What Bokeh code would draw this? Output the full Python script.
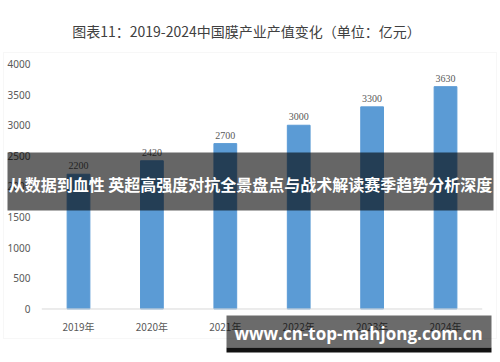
from bokeh.plotting import figure
from bokeh.models import (ColumnDataSource, Label, BoxAnnotation, FixedTicker, Range1d,
                          LinearAxis)
from bokeh.embed import file_html
from bokeh.resources import INLINE

years = ["2019年", "2020年", "2021年", "2022年", "2023年", "2024年"]
values = [2200, 2420, 2700, 3000, 3300, 3630]
y_ticks = [0, 500, 1000, 1500, 2000, 2500, 3000, 3500, 4000]
title_text = "图表11：2019-2024中国膜产业产值变化（单位：亿元）"
banner_text = "从数据到血性 英超高强度对抗全景盘点与战术解读赛季趋势分析深度"
watermark_text = "www.cn-top-mahjong.com.cn"

FONT = "Noto Sans CJK SC"

idx = list(range(len(years)))
src = ColumnDataSource(dict(x=idx, top=values, label=[str(v) for v in values]))

# frame covers the whole canvas; scales chosen so the plot area sits at x 41..482, y 63..309
p = figure(width=500, height=362, x_range=Range1d(-1.0627, 5.749),
           y_range=Range1d(-873.5, 5036.7),
           output_backend="svg", toolbar_location=None,
           min_border=0, x_axis_location=None, y_axis_location=None)
p.background_fill_color = "white"
p.border_fill_color = "white"
p.outline_line_color = None
p.grid.visible = False

# outer chart box
p.add_layout(BoxAnnotation(left=3, right=496, top=310, bottom=24,
                           left_units="screen", right_units="screen",
                           top_units="screen", bottom_units="screen",
                           fill_color=None, line_color="#e3e3e3", line_width=1))

p.vbar(x="x", top="top", width=0.31, source=src, color="#5b9bd5")
p.text(x="x", y="top", text="label", source=src, text_align="center", text_baseline="bottom",
       y_offset=-5, text_font_size="10px", text_color="#595959", text_font="Noto Sans")

# category axis baseline
p.segment(x0=[-0.5], y0=[0], x1=[len(years) - 0.5], y1=[0], line_color="#d9d9d9", line_width=1)

yax = LinearAxis(fixed_location=-0.477, ticker=FixedTicker(ticks=y_ticks))
yax.axis_line_color = None
yax.major_tick_line_color = None
yax.minor_tick_line_color = None
yax.major_label_standoff = 7
yax.major_label_text_font_size = "10px"
yax.major_label_text_color = "#595959"
yax.major_label_text_font = "Noto Sans"
p.add_layout(yax, "left")

xax = LinearAxis(fixed_location=0, ticker=FixedTicker(ticks=idx),
                 major_label_overrides={i: y for i, y in zip(idx, years)})
xax.axis_line_color = None
xax.major_tick_line_color = None
xax.minor_tick_line_color = None
xax.major_label_standoff = 4
xax.major_label_text_font_size = "10px"
xax.major_label_text_color = "#595959"
xax.major_label_text_font = FONT
p.add_layout(xax, "below")

p.add_layout(Label(x=246, y=332, x_units="screen", y_units="screen", text=title_text,
                   text_align="center", text_baseline="middle", text_font_size="14px",
                   text_color="#404040", text_font=FONT))

# banner
p.add_layout(BoxAnnotation(left=7, right=493, top=210, bottom=152,
                           left_units="screen", right_units="screen",
                           top_units="screen", bottom_units="screen",
                           fill_color="black", fill_alpha=0.6, line_color=None))
p.add_layout(Label(x=250, y=179, x_units="screen", y_units="screen", text=banner_text,
                   text_align="center", text_baseline="middle", text_font_size="16px",
                   text_font_style="bold", text_color="white", text_font=FONT))

# watermark
p.add_layout(BoxAnnotation(left=226, right=491, top=47, bottom=15,
                           left_units="screen", right_units="screen",
                           top_units="screen", bottom_units="screen",
                           fill_color="black", fill_alpha=0.58, line_color=None))
p.add_layout(BoxAnnotation(left=226, right=491, top=15, bottom=10,
                           left_units="screen", right_units="screen",
                           top_units="screen", bottom_units="screen",
                           fill_color="#111111", fill_alpha=1, line_color=None))
p.add_layout(Label(x=358, y=29, x_units="screen", y_units="screen", text=watermark_text,
                   text_align="center", text_baseline="middle", text_font_size="17px",
                   text_font_style="bold", text_color="white", text_font="Open Sans"))

open("out.html", "w").write(file_html(p, INLINE))
